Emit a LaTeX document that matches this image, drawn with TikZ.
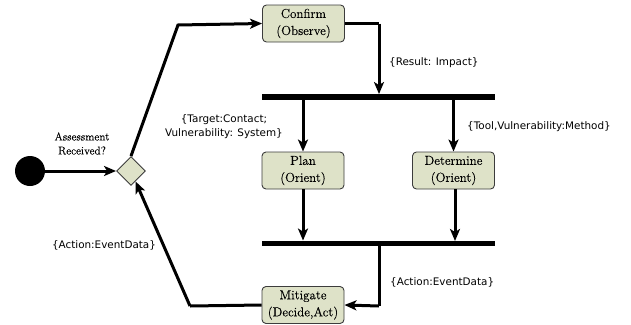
\documentclass[tikz,border=0pt]{standalone}
\usepackage{fontspec}
\newfontfamily\lblfont{DejaVu Sans}
\newfontfamily\boxfont[FakeBold=0.25]{Latin Modern Roman}
\usetikzlibrary{arrows.meta,shapes.geometric}
\definecolor{boxfill}{RGB}{222,226,200}
\definecolor{boxline}{RGB}{60,60,60}
\tikzset{
  actbox/.style={draw=boxline,line width=0.9pt,fill=boxfill,rounded corners=4pt,minimum width=82pt,minimum height=37pt,inner sep=1pt,align=center,font=\boxfont\fontsize{13}{17}\selectfont},
  flow/.style={line width=3pt,-{Stealth[length=12pt,width=10pt,inset=3pt]}},
  plain/.style={line width=3pt},
  bar/.style={fill=black,draw=none,minimum height=5.5pt,minimum width=233pt,inner sep=0pt},
  lbl/.style={font=\lblfont\fontsize{10.4}{13.5}\selectfont,align=center,inner sep=0pt}
}
\begin{document}
\begin{tikzpicture}[x=1pt,y=-1pt]
\useasboundingbox (0,0) rectangle (631,324);
\node[circle,fill=black,minimum size=30pt,inner sep=0pt] (start) at (30,171) {};
\node[diamond,draw=boxline,line width=0.9pt,fill=boxfill,minimum size=29pt,inner sep=0pt] (dec) at (131,171) {};
\node[actbox] (confirm) at (303.5,23.5) {Confirm\\(Observe)};
\node[actbox] (plan) at (303,170.5) {Plan\\(Orient)};
\node[actbox] (determine) at (453.5,170.5) {Determine\\(Orient)};
\node[actbox] (mitigate) at (303,305) {Mitigate\\(Decide,Act)};
\node[bar] (bar1) at (378.5,97) {};
\node[bar] (bar2) at (378.5,243.5) {};
\coordinate (c1) at (178,25);
\coordinate (c2) at (379,23.5);
\coordinate (c3) at (379,306);
\coordinate (c4) at (190,306);

\node[lbl,font=\boxfont\fontsize{11.3}{14}\selectfont] (assess) at (82,143.5) {Assessment\\Received?};
\draw[flow] (start) -- (dec);
\draw[flow] (dec.north) -- (c1) -- (confirm.west);
\draw[plain] (confirm.east) -- (c2);
\draw[flow] (c2) -- (c2 |- bar1.north);
\node[lbl,anchor=west] (l1) at (389,63) {\{Result: Impact\}};
\draw[flow] (plan.north |- bar1.south) -- (plan.north);
\draw[flow] (determine.north |- bar1.south) -- (determine.north);
\node[lbl,anchor=east] (l2) at (283,126.5) {\{Target:Contact;\\Vulnerability: System\}};
\node[lbl,anchor=west] (l3) at (467,127) {\{Tool,Vulnerability:Method\}};
\draw[flow] (plan.south) -- (plan.south |- bar2.north);
\draw[flow] (455,189) -- (455,241);
\draw[plain] (c3 |- bar2.south) -- (c3);
\draw[flow] (c3) -- (mitigate.east);
\node[lbl,anchor=west] (l4) at (390,282) {\{Action:EventData\}};
\draw[plain] (mitigate.west) -- (c4);
\draw[flow] (c4) -- (dec);
\node[lbl] (l5) at (104,245) {\{Action:EventData\}};
\end{tikzpicture}
\end{document}
